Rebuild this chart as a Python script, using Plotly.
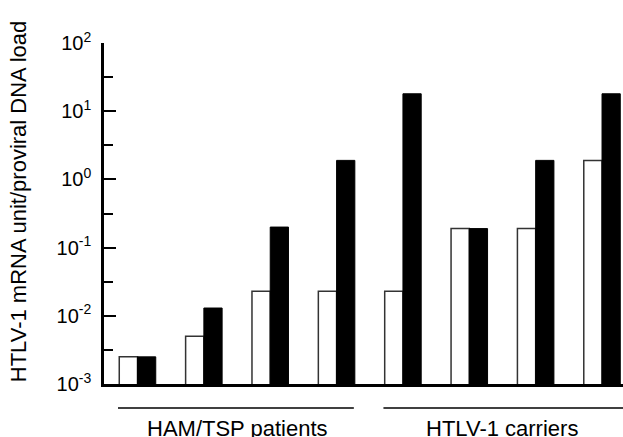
import plotly.graph_objects as go

# Data
pairs = list(range(8))
open_vals = [0.0025, 0.005, 0.023, 0.023, 0.023, 0.19, 0.19, 1.9]
filled_vals = [0.0025, 0.013, 0.2, 1.9, 18, 0.19, 1.9, 18]
tick_vals = [0.001, 0.01, 0.1, 1, 10, 100]
tick_text = ["10<sup>-3</sup>", "10<sup>-2</sup>", "10<sup>-1</sup>",
             "10<sup>0</sup>", "10<sup>1</sup>", "10<sup>2</sup>"]
minor_vals = [10 ** (k + 0.5) for k in range(-3, 2)]
groups = ["HAM/TSP patients", "HTLV-1 carriers"]
group_first = [0, 4]
group_last = [3, 7]
y_title = "HTLV-1 mRNA unit/proviral DNA load"

FONT = "Liberation Sans, Arial, sans-serif"

fig = go.Figure()
fig.add_trace(go.Bar(x=pairs, y=open_vals, marker=dict(color="white", line=dict(color="#333", width=1.5))))
fig.add_trace(go.Bar(x=pairs, y=filled_vals, marker=dict(color="black", line=dict(color="black", width=1))))

fig.update_layout(
    width=623, height=437,
    margin=dict(l=104, r=0, t=43, b=53),
    paper_bgcolor="white", plot_bgcolor="white",
    showlegend=False,
    barmode="group", bargap=0.45, bargroupgap=0,
    font=dict(family=FONT, color="black"),
)
fig.update_xaxes(
    range=[-0.505, 7.316], showgrid=False, zeroline=False,
    showticklabels=False, ticks="",
    showline=True, linecolor="black", linewidth=2.5,
)
fig.update_yaxes(
    type="log", range=[-3, 2], showgrid=False, zeroline=False,
    showline=True, linecolor="black", linewidth=2.5,
    tickmode="array", tickvals=tick_vals, ticktext=tick_text,
    ticks="inside", ticklen=12, tickwidth=1.5, tickcolor="black",
    tickfont=dict(family=FONT, size=20, color="black"),
    ticklabelstandoff=6,
    minor=dict(tickmode="array", tickvals=minor_vals, ticks="inside",
               ticklen=9, tickwidth=1.5, tickcolor="black", showgrid=False),
)

for name, a, b in zip(groups, group_first, group_last):
    fig.add_shape(type="line", xref="x", yref="paper",
                  x0=a - 0.294, x1=b + 0.316 if b == 7 else b + 0.26,
                  y0=-0.0705, y1=-0.0705,
                  line=dict(color="black", width=1.5))
    fig.add_annotation(x=(a + b) / 2, xref="x", y=-0.13, yref="paper",
                       text=name, showarrow=False, xanchor="center", yanchor="middle",
                       font=dict(family=FONT, size=22, color="black"))

fig.add_annotation(x=-0.1657, xref="paper", y=0.536, yref="paper", text=y_title,
                   textangle=-90, showarrow=False, xanchor="center", yanchor="middle",
                   font=dict(family=FONT, size=22, color="black"))

fig.write_html("out.html", config={"displayModeBar": False},
               post_script="document.body.style.margin='0';document.body.style.overflow='hidden';")
